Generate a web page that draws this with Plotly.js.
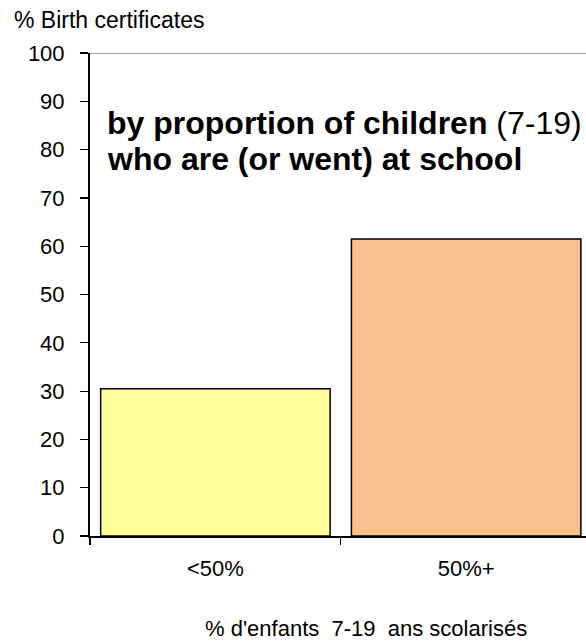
<!DOCTYPE html>
<html>
<head>
<meta charset="utf-8">
<script src="https://cdn.plot.ly/plotly-3.0.1.min.js"></script>
<style>html,body{margin:0;padding:0;background:#fff;}#chart{width:586px;height:643px;}</style>
</head>
<body>
<div id="chart"></div>
<script>
const categories = ["<50%", "50%+"];
const values = [30.5, 61.5];
const barColors = ["#FFFF99", "#F9C18F"];
const yTicks = [0, 10, 20, 30, 40, 50, 60, 70, 80, 90, 100];

const font = "Liberation Sans, Arial, sans-serif";
const L = 90, T = 53, B = 107, W = 586, H = 643;
const pw = W - L, ph = H - T - B;
const px = v => (v - L) / pw;
const py = v => (H - B - v) / ph;

const trace = {
  type: "bar",
  x: categories,
  y: values,
  width: 0.915,
  marker: {color: barColors, line: {color: "#000", width: 1.5}},
  hoverinfo: "none"
};

const layout = {
  width: W, height: H,
  margin: {l: L, r: 0, t: T, b: B},
  paper_bgcolor: "#fff", plot_bgcolor: "#fff",
  showlegend: false,
  font: {family: font, size: 22, color: "#000"},
  xaxis: {
    type: "category",
    range: [-0.5, 1.478],
    tickson: "boundaries",
    ticks: "outside", ticklen: 7, tickwidth: 1.2, tickcolor: "#000",
    showline: true, linecolor: "#000", linewidth: 2,
    showgrid: false, zeroline: false,
    ticklabelstandoff: 12,
    tickfont: {family: font, size: 22}
  },
  yaxis: {
    range: [0, 100],
    tickmode: "array", tickvals: yTicks, ticktext: yTicks.map(String),
    ticks: "outside", ticklen: 8, tickwidth: 1.2, tickcolor: "#000",
    showline: true, linecolor: "#000", linewidth: 2,
    showgrid: false, zeroline: false,
    ticklabelstandoff: 11,
    tickfont: {family: font, size: 22}
  },
  shapes: [
    {type: "line", xref: "paper", yref: "y", x0: 0, x1: 1, y0: 100, y1: 100,
     line: {color: "#808080", width: 1.5}}
  ],
  annotations: [
    {text: "% Birth certificates", xref: "paper", yref: "paper",
     x: px(12), y: py(20), xanchor: "left", yanchor: "middle",
     showarrow: false, font: {family: font, size: 23}},
    {text: "<b>by proportion of children</b> (7-19)", xref: "paper", yref: "paper",
     x: px(105), y: py(123), xanchor: "left", yanchor: "middle", align: "left",
     showarrow: false, font: {family: font, size: 32}},
    {text: "<b>who are (or went) at school</b>", xref: "paper", yref: "paper",
     x: px(105), y: py(159), xanchor: "left", yanchor: "middle", align: "left",
     showarrow: false, font: {family: font, size: 32}},
    {text: "% d'enfants  7-19  ans scolarisés", xref: "paper", yref: "paper",
     x: px(366), y: py(628), xanchor: "center", yanchor: "middle",
     showarrow: false, font: {family: font, size: 22}}
  ]
};

Plotly.newPlot("chart", [trace], layout, {displayModeBar: false, staticPlot: true});
</script>
</body>
</html>
